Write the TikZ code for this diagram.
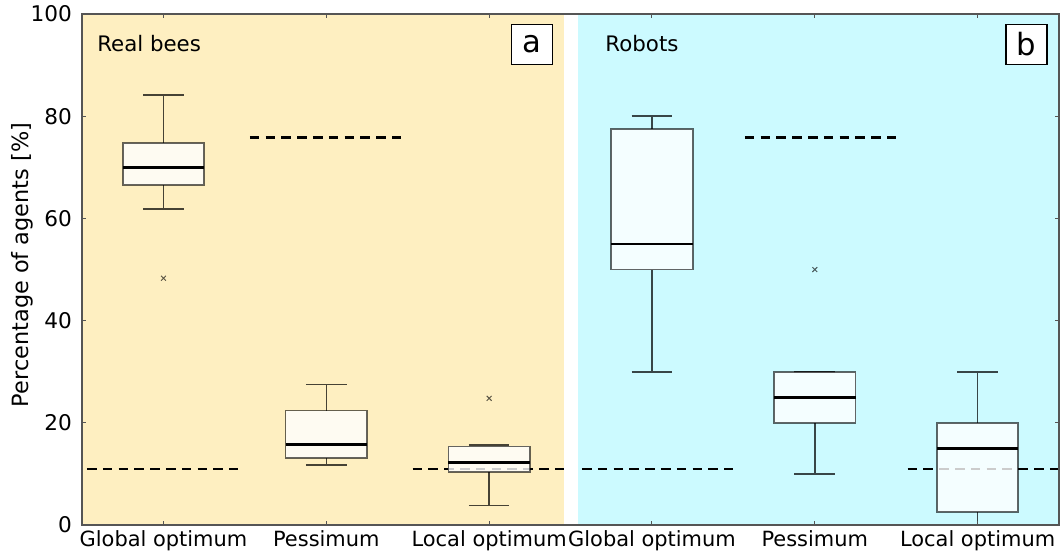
\documentclass[tikz,border=0pt]{standalone}
\usepackage{fontspec}
\setmainfont{DejaVu Sans}
\usepackage{xcolor}
\definecolor{beesbg}{RGB}{254,239,193}
\definecolor{robotsbg}{RGB}{204,250,255}
\definecolor{axisgray}{RGB}{85,85,85}

\tikzset{
  whisk/.style={draw=black, draw opacity=0.72, line width=1.15pt},
  quart/.style={draw=black, draw opacity=0.6, line width=1.3pt, fill=white, fill opacity=0.8},
  median/.style={black, line width=2.2pt},
  chance/.style={black, line width=2pt, dash pattern=on 7.2pt off 4.65pt},
  outl/.style={draw=black, draw opacity=0.65, line width=0.75pt},
  ticklab/.style={font=\fontsize{16.2}{19}\selectfont, inner sep=0pt},
  catlab/.style={font=\fontsize{15.7}{19}\selectfont, inner sep=0pt, anchor=north},
  paneltitle/.style={font=\fontsize{16}{19}\selectfont, inner sep=0pt, anchor=base west},
  panel/.style={draw=black, fill=white, line width=0.8pt, minimum width=30.75pt,
    minimum height=30pt, inner sep=0pt, font=\fontsize{23}{26}\selectfont}
}

% #1 position, #2 lower whisker, #3 q1, #4 median, #5 q3, #6 upper whisker
\newcommand{\boxwhisker}[6]{
  \draw[whisk] (#1,#2) -- (#1,#3) (#1,#5) -- (#1,#6)
    (#1-0.125,#2) -- (#1+0.125,#2) (#1-0.125,#6) -- (#1+0.125,#6);
  \draw[quart] (#1-0.25,#3) rectangle (#1+0.25,#5);
  \draw[median] (#1-0.25,#4) -- (#1+0.25,#4);
}
\newcommand{\flier}[2]{
  \draw[outl] (#1,#2) ++(-1.8pt,-1.8pt) -- ++(3.6pt,3.6pt) ++(-3.6pt,0) -- ++(3.6pt,-3.6pt);
}

\begin{document}
\begin{tikzpicture}[x=122.1pt, y=3.8325pt]
  \useasboundingbox (-0.004,-5.675) rectangle (6.506,102.74);
  % panels
  \fill[beesbg] (0.5,0) rectangle (3.459,100);
  \fill[robotsbg] (3.547,0) rectangle (6.5,100);
  % chance levels
  \draw[chance] (0.53,11) -- (1.46,11);
  \draw[chance] (1.53,75.8) -- (2.46,75.8);
  \draw[chance] (2.53,11) -- (3.46,11);
  \draw[chance] (3.57,11) -- (4.5,11);
  \draw[chance] (4.57,75.8) -- (5.5,75.8);
  \draw[chance] (5.57,11) -- (6.5,11);
  % real bees
  \boxwhisker{1}{61.8}{66.5}{69.9}{74.8}{84.1}
  \flier{1}{48.3}
  \boxwhisker{2}{11.8}{13.1}{15.7}{22.4}{27.5}
  \boxwhisker{3}{3.85}{10.4}{12.3}{15.4}{15.7}
  \flier{3}{24.8}
  % robots
  \boxwhisker{4}{30}{50}{55}{77.5}{80}
  \boxwhisker{5}{10}{20}{25}{30}{30}
  \flier{5}{50}
  \boxwhisker{6}{0}{2.5}{15}{20}{30}
  % axes
  \draw[axisgray, line width=1pt] (0.5,0) rectangle (6.5,100);
  \foreach \v in {0,20,...,100} {
    \draw[axisgray, line width=0.8pt] (0.5,\v) -- ++(3pt,0) (6.5,\v) -- ++(-3pt,0);
    \node[ticklab, anchor=east] (ytick\v) at (0.4386,\v) {\v};
  }
  \foreach \k/\name in {1/Global optimum, 2/Pessimum, 3/Local optimum,
      4/Global optimum, 5/Pessimum, 6/Local optimum} {
    \draw[axisgray, line width=0.8pt] (\k,0) -- ++(0,3pt) (\k,100) -- ++(0,-3pt);
    \node[catlab] (cat\k) at (\k,-1.1) {\name};
  }
  \node[rotate=90, font=\fontsize{16.8}{20}\selectfont] (ylab) at (0.1314,50.9) {Percentage of agents [\%]};
  \node[paneltitle] (beestitle) at (0.592,92.6) {Real bees};
  \node[paneltitle] (robotstitle) at (3.713,92.6) {Robots};
  \node[panel] (panela) at (3.264,94.1) {a};
  \node[panel] (panelb) at (6.30,94.1) {b};
\end{tikzpicture}
\end{document}
